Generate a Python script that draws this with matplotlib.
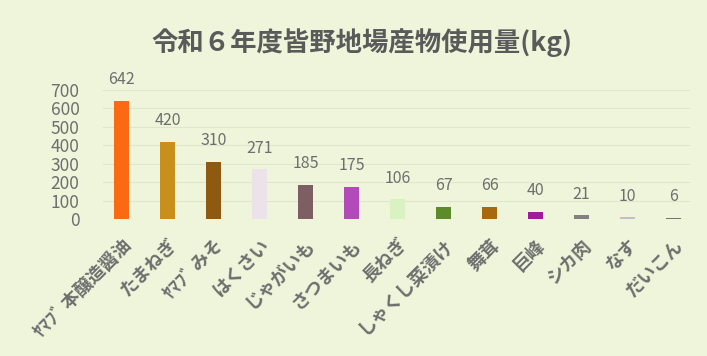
import matplotlib.pyplot as plt
from matplotlib import font_manager

plt.rcParams['font.family'] = ['Noto Sans CJK JP', 'DejaVu Sans']

items = ["ﾔﾏﾌﾞ 本醸造醤油", "たまねぎ", "ﾔﾏﾌﾞ みそ", "はくさい", "じゃがいも", "さつまいも",
         "長ねぎ", "しゃくし菜漬け", "舞茸", "巨峰", "シカ肉", "なす", "だいこん"]
amounts = [642, 420, 310, 271, 185, 175, 106, 67, 66, 40, 21, 10, 6]
bar_colors = ["#fb6a12", "#c98f1c", "#8e5a12", "#ece2ea", "#7d5f63", "#b24bb8",
              "#d9f2c2", "#5c8c2a", "#a8680e", "#a21a9c", "#858080", "#c8bcc8", "#6f786a"]

bg = "#eef5da"
text_col = "#6e6e6e"

names = {f.name for f in font_manager.fontManager.ttflist}
tick_font = "Liberation Sans Narrow" if "Liberation Sans Narrow" in names else "Noto Sans CJK JP"

fig = plt.figure(figsize=(7.07, 3.56), dpi=100)
fig.patch.set_facecolor(bg)
ax = fig.add_axes([0.146, 0.385, 0.830, 0.362])
ax.set_facecolor(bg)

x = range(len(items))
ax.bar(x, amounts, width=0.33, color=bar_colors)

for i, v in enumerate(amounts):
    ax.annotate(str(v), (i, v), xytext=(0, 9), textcoords="offset points",
                ha="center", va="bottom", fontsize=11.5, color=text_col,
                annotation_clip=False)

ax.set_ylim(0, 700)
ax.set_xlim(-0.40, 12.36)
ax.set_yticks(range(0, 701, 100))
ax.yaxis.grid(True, color="#dfe6cc", linewidth=0.8)
ax.set_axisbelow(True)
for s in ax.spines.values():
    s.set_visible(False)
ax.tick_params(axis="both", length=0, colors=text_col)
ax.tick_params(axis="y", pad=17)
for t in ax.get_yticklabels():
    t.set_fontfamily(tick_font)
    t.set_fontsize(12.5)
ax.set_xticks(list(x))
ax.set_xticklabels(items, rotation=45, ha="right", rotation_mode="anchor",
                   fontsize=13, fontweight="bold", color=text_col)
ax.tick_params(axis="x", pad=12)

fig.text(0.512, 0.88, "令和６年度皆野地場産物使用量(kg)", ha="center", va="center",
         fontsize=19, fontweight="bold", color="#5a5a5a")

plt.savefig("out.png", dpi=100, facecolor=bg)
